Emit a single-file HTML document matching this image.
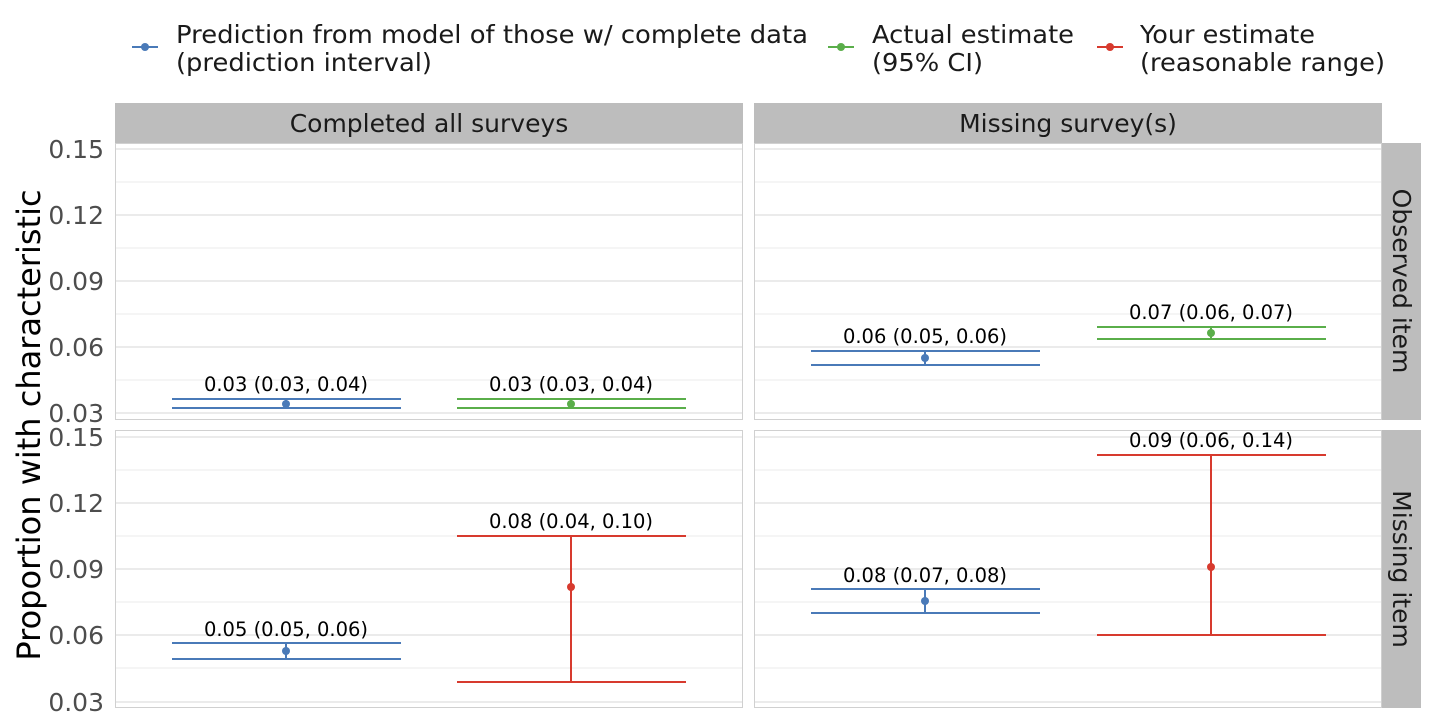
<!DOCTYPE html>
<html><head><style>body{margin:0;background:#fff}svg{display:block}text{font-family:"DejaVu Sans","Liberation Sans",sans-serif}</style></head><body>
<svg width="1436" height="726" xmlns="http://www.w3.org/2000/svg">
<g font-size="25" fill="#1a1a1a">
<line x1="132" y1="47" x2="158" y2="47" stroke="#4a7ab8" stroke-width="2"/><circle cx="145" cy="47" r="4" fill="#4a7ab8"/>
<text x="176" y="43" textLength="632" lengthAdjust="spacingAndGlyphs">Prediction from model of those w/ complete data</text><text x="176" y="71" textLength="256" lengthAdjust="spacingAndGlyphs">(prediction interval)</text>
<line x1="828" y1="47" x2="854" y2="47" stroke="#5aae4a" stroke-width="2"/><circle cx="841" cy="47" r="4" fill="#5aae4a"/>
<text x="872" y="43" textLength="202" lengthAdjust="spacingAndGlyphs">Actual estimate</text><text x="872" y="71" textLength="111" lengthAdjust="spacingAndGlyphs">(95% CI)</text>
<line x1="1097" y1="47" x2="1123" y2="47" stroke="#d73a2e" stroke-width="2"/><circle cx="1110" cy="47" r="4" fill="#d73a2e"/>
<text x="1140" y="43" textLength="175" lengthAdjust="spacingAndGlyphs">Your estimate</text><text x="1140" y="71" textLength="245" lengthAdjust="spacingAndGlyphs">(reasonable range)</text>
</g>
<rect x="115" y="103" width="628" height="40" fill="#bdbdbd"/>
<rect x="754" y="103" width="628" height="40" fill="#bdbdbd"/>
<text x="429" y="132" font-size="25" text-anchor="middle" fill="#1a1a1a">Completed all surveys</text>
<text x="1068" y="132" font-size="25" text-anchor="middle" fill="#1a1a1a">Missing survey(s)</text>
<rect x="1382" y="143" width="39" height="277" fill="#bdbdbd"/>
<rect x="1382" y="430" width="39" height="278" fill="#bdbdbd"/>
<text transform="translate(1393,281) rotate(90)" font-size="25" text-anchor="middle" fill="#1a1a1a">Observed item</text>
<text transform="translate(1393,569) rotate(90)" font-size="25" text-anchor="middle" fill="#1a1a1a">Missing item</text>
<g stroke="#ebebeb" stroke-width="1">
<path d="M115 182H743M115 248H743M115 314H743M115 380H743M754 182H1382M754 248H1382M754 314H1382M754 380H1382"/>
<path d="M115 470H743M115 536H743M115 602H743M115 668H743M754 470H1382M754 536H1382M754 602H1382M754 668H1382"/>
</g>
<g stroke="#ebebeb" stroke-width="2">
<path d="M115 149H743M115 215H743M115 281H743M115 347H743M115 413H743M754 149H1382M754 215H1382M754 281H1382M754 347H1382M754 413H1382"/>
<path d="M115 437H743M115 503H743M115 569H743M115 635H743M115 702H743M754 437H1382M754 503H1382M754 569H1382M754 635H1382M754 702H1382"/>
</g>
<g fill="none" stroke="#d0d0d0" stroke-width="1">
<rect x="115.5" y="143.5" width="627" height="276"/><rect x="754.5" y="143.5" width="627" height="276"/>
<rect x="115.5" y="430.5" width="627" height="277"/><rect x="754.5" y="430.5" width="627" height="277"/>
</g>
<g font-size="25" fill="#4d4d4d" text-anchor="end">
<text x="104" y="158">0.15</text><text x="104" y="224">0.12</text><text x="104" y="290">0.09</text><text x="104" y="356">0.06</text><text x="104" y="422">0.03</text>
<text x="104" y="446">0.15</text><text x="104" y="512">0.12</text><text x="104" y="578">0.09</text><text x="104" y="644">0.06</text><text x="104" y="711">0.03</text>
</g>
<text transform="translate(40,425) rotate(-90)" font-size="32" text-anchor="middle" fill="#000">Proportion with characteristic</text>
<g stroke-width="2" font-size="19.5" text-anchor="middle" fill="#000">
<g stroke="#4a7ab8"><path d="M172 399H401M172 408H401M286 399V408"/></g><circle cx="286" cy="404" r="4" fill="#4a7ab8"/><text x="286" y="391">0.03 (0.03, 0.04)</text>
<g stroke="#5aae4a"><path d="M457 399H686M457 408H686M571 399V408"/></g><circle cx="571" cy="404" r="4" fill="#5aae4a"/><text x="571" y="391">0.03 (0.03, 0.04)</text>
<g stroke="#4a7ab8"><path d="M811 351H1040M811 365H1040M925 351V365"/></g><circle cx="925" cy="358" r="4" fill="#4a7ab8"/><text x="925" y="343">0.06 (0.05, 0.06)</text>
<g stroke="#5aae4a"><path d="M1097 327H1326M1097 339H1326M1211 327V339"/></g><circle cx="1211" cy="333" r="4" fill="#5aae4a"/><text x="1211" y="319">0.07 (0.06, 0.07)</text>
<g stroke="#4a7ab8"><path d="M172 643H401M172 659H401M286 643V659"/></g><circle cx="286" cy="651" r="4" fill="#4a7ab8"/><text x="286" y="636">0.05 (0.05, 0.06)</text>
<g stroke="#d73a2e"><path d="M457 536H686M457 682H686M571 536V682"/></g><circle cx="571" cy="587" r="4" fill="#d73a2e"/><text x="571" y="528">0.08 (0.04, 0.10)</text>
<g stroke="#4a7ab8"><path d="M811 589H1040M811 613H1040M925 589V613"/></g><circle cx="925" cy="601" r="4" fill="#4a7ab8"/><text x="925" y="582">0.08 (0.07, 0.08)</text>
<g stroke="#d73a2e"><path d="M1097 455H1326M1097 635H1326M1211 455V635"/></g><circle cx="1211" cy="567" r="4" fill="#d73a2e"/><text x="1211" y="447">0.09 (0.06, 0.14)</text>
</g>
</svg>
</body></html>
